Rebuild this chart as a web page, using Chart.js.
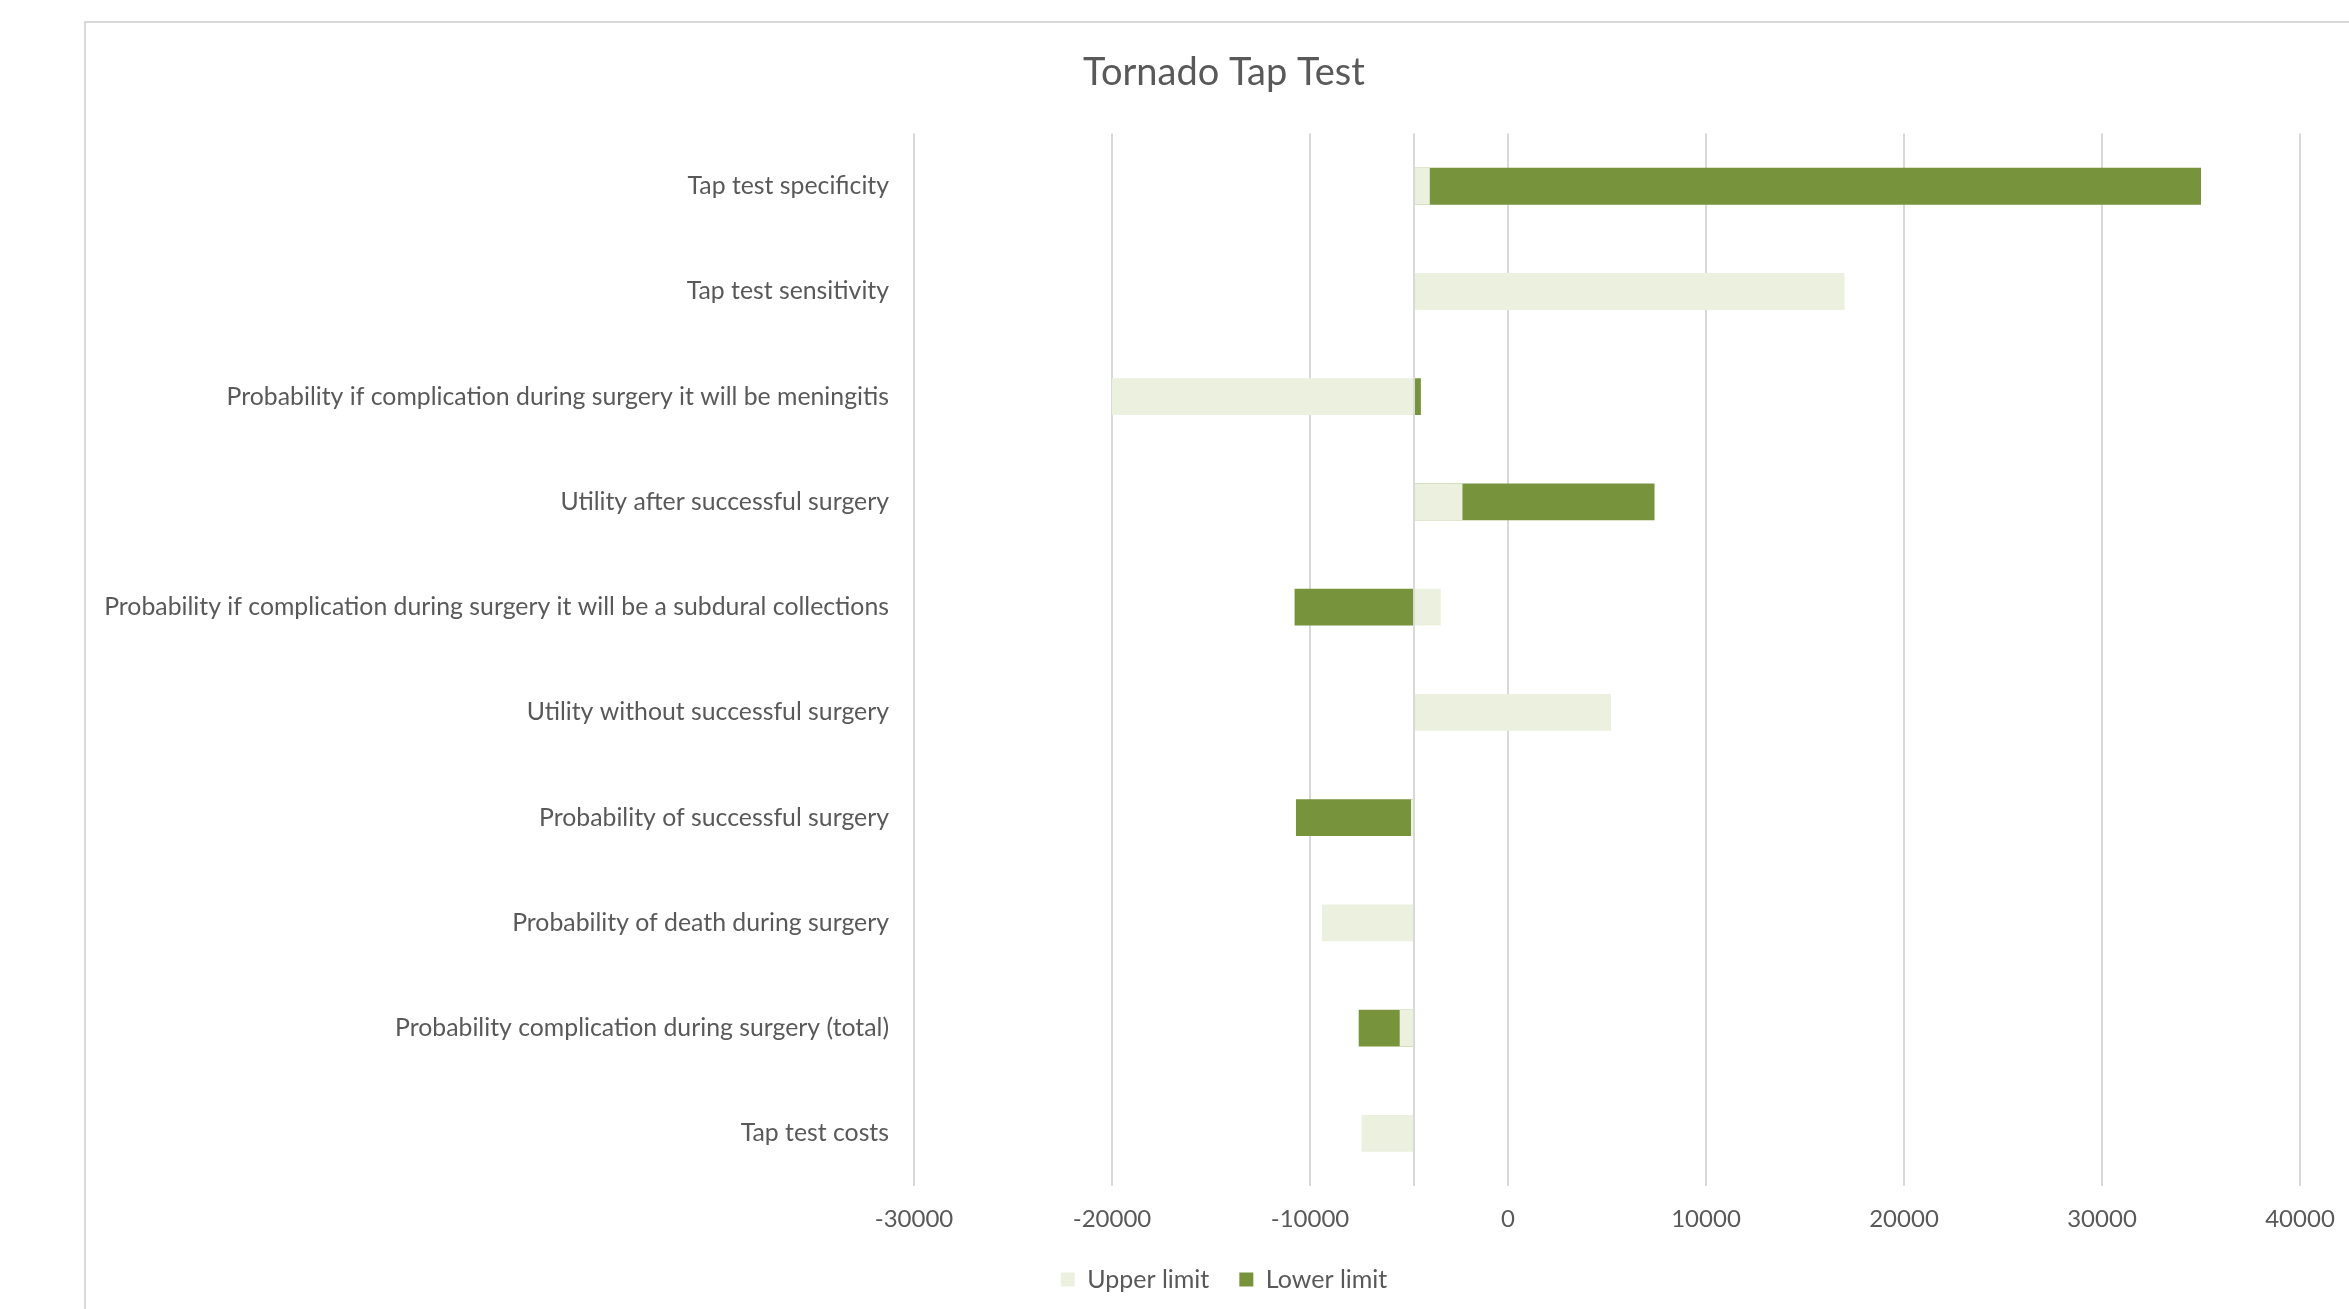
<!DOCTYPE html>
<html><head><meta charset="utf-8">
<script src="https://cdn.jsdelivr.net/npm/chart.js@4.4.1/dist/chart.umd.min.js"></script>
<style>
html,body{margin:0;padding:0;background:#fff;overflow:hidden;width:2349px;height:1309px;position:relative}
#frame{position:absolute;left:84px;top:21px;width:2400px;height:1400px;border:2px solid #D9D9D9;box-sizing:border-box}
#c{position:absolute;left:0;top:0}
</style></head><body>
<div id="frame"></div>
<canvas id="c" width="2448" height="1309"></canvas>
<script>
// ---- data ----
const categories = [
  "Tap test specificity",
  "Tap test sensitivity",
  "Probability if complication during surgery it will be meningitis",
  "Utility after successful surgery",
  "Probability if complication during surgery it will be a subdural collections",
  "Utility without successful surgery",
  "Probability of successful surgery",
  "Probability of death during surgery",
  "Probability complication during surgery (total)",
  "Tap test costs"
];
const baseValue = -4750;
const upperLimit = [-3950, 17000, -20000, -2300, -3400, 5200, -4900, -9400, -5470, -7400];
const lowerLimit = [35000, null, -4400, 7400, -10780, null, -10710, null, -7540, null];
const xTicks = [-30000, -20000, -10000, 0, 10000, 20000, 30000, 40000];
const seriesNames = ["Upper limit", "Lower limit"];

const FONT = "Lato";
const TEXT = "#595959";

const baseLine = {
  id: 'baseLine',
  afterDatasetsDraw(chart) {
    const {ctx, chartArea, scales} = chart;
    const x = Math.round(scales.x.getPixelForValue(baseValue));
    ctx.save();
    ctx.strokeStyle = '#D9D9D9';
    ctx.lineWidth = 2;
    ctx.beginPath();
    ctx.moveTo(x, chartArea.top);
    ctx.lineTo(x, chartArea.bottom);
    ctx.stroke();
    ctx.restore();
  }
};

new Chart(document.getElementById('c'), {
  type: 'bar',
  data: {
    labels: categories,
    datasets: [
      { label: seriesNames[0], data: upperLimit, base: baseValue, backgroundColor: '#EBF1DE', borderWidth: 0 },
      { label: seriesNames[1], data: lowerLimit, base: baseValue, backgroundColor: '#77933C', borderWidth: 0 }
    ]
  },
  options: {
    indexAxis: 'y',
    responsive: false,
    animation: false,
    datasets: { bar: { grouped: false, categoryPercentage: 1, barPercentage: 0.35 } },
    layout: { padding: { left: 0, right: 0, top: 0, bottom: 7 } },
    plugins: {
      title: { display: true, text: 'Tornado Tap Test', color: TEXT,
               font: { family: FONT, size: 38, weight: 'normal' }, padding: { top: 50, bottom: 38 } },
      legend: { position: 'bottom',
                labels: { color: TEXT, font: { family: FONT, size: 25 }, boxWidth: 14, boxHeight: 14, padding: 30 } },
      tooltip: { enabled: false }
    },
    scales: {
      x: {
        min: xTicks[0], max: xTicks[xTicks.length - 1],
        clip: false,
        afterBuildTicks(s) { s.ticks = xTicks.map(v => ({ value: v })); },
        ticks: { color: TEXT, font: { family: FONT, size: 24 }, padding: 19, callback: v => String(v) },
        grid: { color: '#D9D9D9', lineWidth: 2, drawTicks: false },
        border: { display: false },
        afterFit(s) { s.height = 51; }
      },
      y: {
        clip: false,
        grid: { display: false, drawTicks: false },
        border: { display: false },
        ticks: { color: TEXT, font: { family: FONT, size: 24.8 }, padding: 25 },
        afterFit(s) { s.width = 914; }
      },
      yRight: {
        type: 'category',
        position: 'right',
        labels: categories,
        grid: { display: false, drawTicks: false },
        border: { display: false },
        ticks: { display: false },
        afterFit(s) { s.width = 148; }
      }
    }
  },
  plugins: [baseLine]
});
</script>
</body></html>
